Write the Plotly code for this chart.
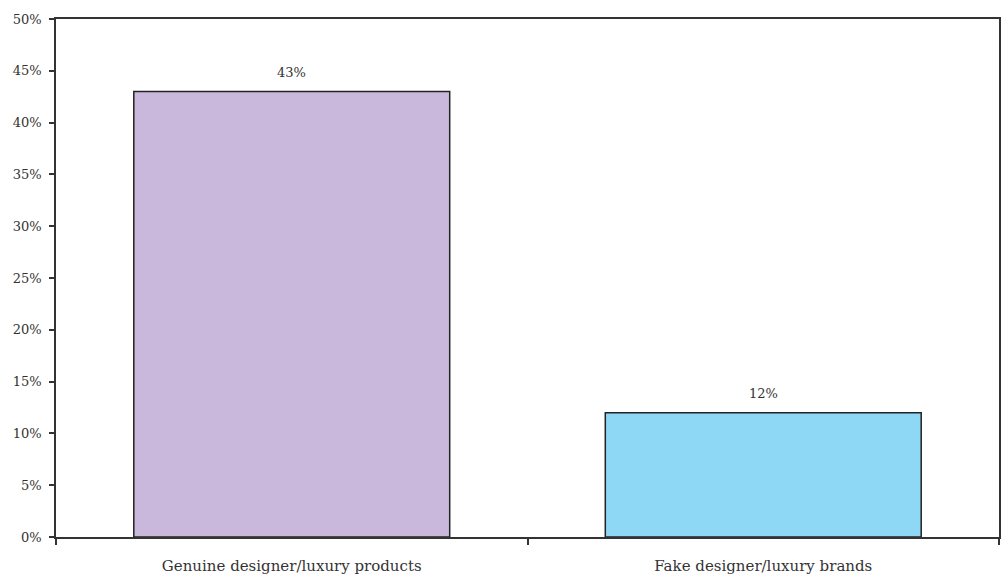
import plotly.graph_objects as go

categories = ["Genuine designer/luxury products", "Fake designer/luxury brands"]
values = [43, 12]
labels = ["43%", "12%"]
colors = ["#C9B8DB", "#8ED8F6"]
y_tickvals = [0, 5, 10, 15, 20, 25, 30, 35, 40, 45, 50]
y_ticktext = ["0%", "5%", "10%", "15%", "20%", "25%", "30%", "35%", "40%", "45%", "50%"]

fam = "DejaVu Serif, Liberation Serif, serif"
font = dict(family=fam, size=13, color="#333333")

fig = go.Figure(go.Bar(
    x=categories, y=values,
    marker=dict(color=colors, line=dict(color="#222222", width=1.5)),
))

for c, v, t in zip(categories, values, labels):
    fig.add_annotation(x=c, y=v, text=t, showarrow=False, yanchor="middle",
                       yshift=19, font=dict(family=fam, size=13, color="#333333"))

fig.update_layout(
    width=1008, height=574,
    margin=dict(l=56, r=9, t=19, b=37),
    paper_bgcolor="white", plot_bgcolor="white",
    bargap=0.33,
    showlegend=False,
    font=font,
)
fig.update_yaxes(
    range=[0, 50], tickvals=y_tickvals, ticktext=y_ticktext,
    showgrid=False, zeroline=False, automargin=False,
    showline=True, linecolor="#333333", linewidth=1.5, mirror=True,
    ticks="outside", ticklen=5, tickcolor="#333333", tickwidth=1.5,
    ticklabelstandoff=5,
)
fig.update_xaxes(
    showgrid=False, showline=True, linecolor="#333333", linewidth=1.5, mirror=True,
    ticks="outside", tickson="boundaries", ticklen=6, tickcolor="#333333", tickwidth=1.5,
    ticklabelstandoff=14, automargin=False,
    tickfont=dict(family=fam, size=15, color="#333333"),
)

fig.write_html("out.html")
